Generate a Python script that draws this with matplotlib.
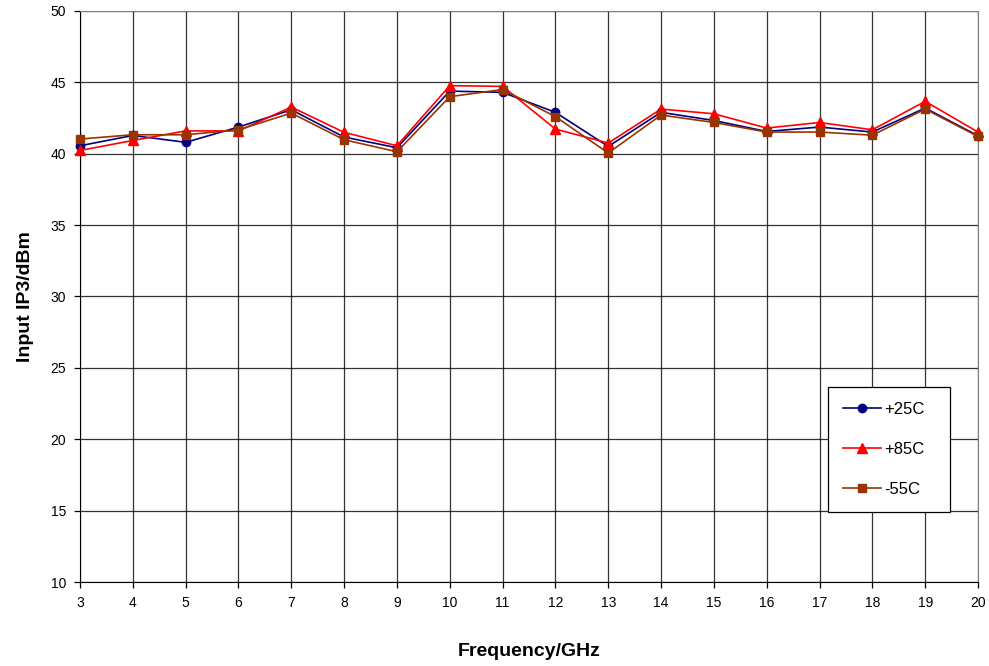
import matplotlib
matplotlib.use("Agg")
import matplotlib.pyplot as plt

freq = [3, 4, 5, 6, 7, 8, 9, 10, 11, 12, 13, 14, 15, 16, 17, 18, 19, 20]
t25 = [40.56, 41.28, 40.8, 41.87, 43.08, 41.17, 40.42, 44.39, 44.3, 42.9, 40.51, 42.9, 42.33, 41.56, 41.87, 41.52, 43.2, 41.26]
t85 = [40.23, 40.93, 41.6, 41.6, 43.27, 41.5, 40.56, 44.77, 44.72, 41.73, 40.75, 43.13, 42.8, 41.8, 42.19, 41.68, 43.67, 41.52]
tm55 = [41.03, 41.33, 41.33, 41.68, 42.85, 40.98, 40.14, 44.0, 44.5, 42.6, 40.05, 42.71, 42.19, 41.52, 41.52, 41.3, 43.13, 41.21]
yticks = [10, 15, 20, 25, 30, 35, 40, 45, 50]

plt.rcParams['font.family'] = ['Liberation Sans', 'DejaVu Sans']

fig = plt.figure(figsize=(9.89, 6.66), dpi=100)
ax = fig.add_axes([80/989, 1-582/666, (978-80)/989, (582-11)/666])

ax.plot(freq, t25, color='#000080', marker='o', markersize=6, lw=1.2, label='+25C', clip_on=False, zorder=3)
ax.plot(freq, t85, color='#FF0000', marker='^', markersize=7, lw=1.2, label='+85C', clip_on=False, zorder=3)
ax.plot(freq, tm55, color='#993300', marker='s', markersize=6, lw=1.2, label='-55C', clip_on=False, zorder=3)

ax.set_xlim(3, 20)
ax.set_ylim(10, 50)
ax.set_xticks(freq)
ax.set_yticks(yticks)
ax.grid(True, color='#000000', lw=0.9, alpha=0.8)
ax.set_axisbelow(True)
for s in ['top', 'right']:
    ax.spines[s].set_color('#808080')
for s in ['left', 'bottom']:
    ax.spines[s].set_color('#000000')
ax.tick_params(axis='both', labelsize=10, length=4, width=0.9, direction='out', pad=6)

ax.set_xlabel('Frequency/GHz', fontsize=14, fontweight='bold', labelpad=24)
ax.set_ylabel('Input IP3/dBm', fontsize=14, fontweight='bold', labelpad=12)

leg = ax.legend(loc='lower left', bbox_to_anchor=(0.833, 0.1226, 0.136, 0.21), mode='expand',
                borderaxespad=0, fontsize=12, frameon=True, fancybox=False, labelspacing=1.5,
                handlelength=2.3, handletextpad=0.2, borderpad=0.9, edgecolor='#000000', framealpha=1)
leg.get_frame().set_linewidth(0.9)

fig.savefig('out.png', dpi=100)
